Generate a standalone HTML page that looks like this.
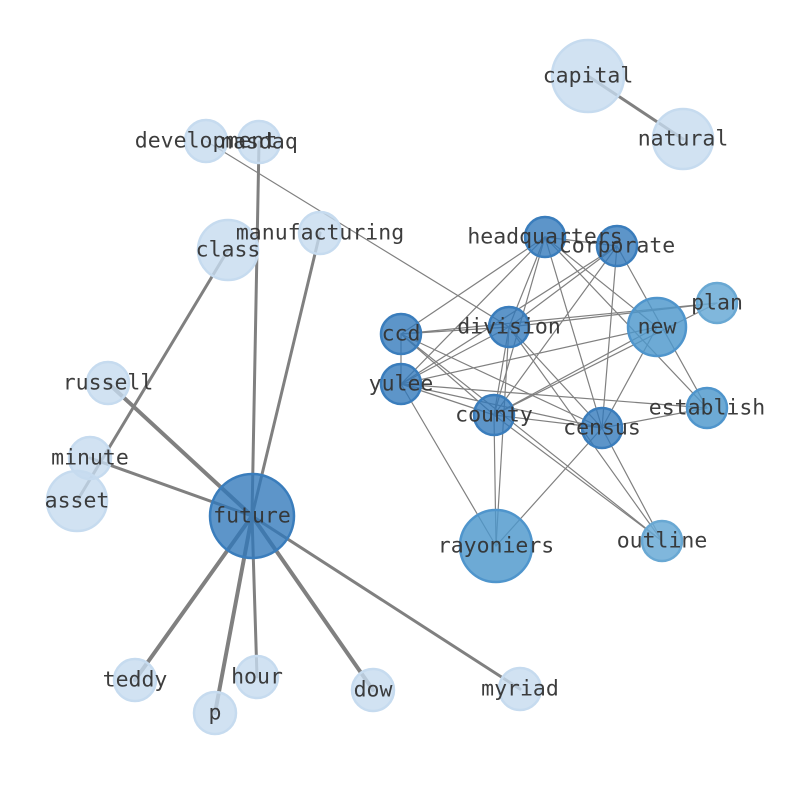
<!DOCTYPE html>
<html><head><meta charset="utf-8"><style>
html,body{margin:0;padding:0;background:#fff;}
svg{display:block;}
text{font-family:"DejaVu Sans Mono","Liberation Mono",monospace;font-size:21.5px;fill:#333;fill-opacity:0.95;text-anchor:middle;dominant-baseline:central;}
</style></head><body>
<svg width="794" height="790" viewBox="0 0 794 790" xmlns="http://www.w3.org/2000/svg">
<g stroke="#808080" stroke-linecap="round">
<g stroke-width="3">
<line x1="588" y1="76" x2="683" y2="139"/>
<line x1="259" y1="142" x2="252" y2="516"/>
<line x1="320" y1="233" x2="252" y2="516"/>
<line x1="228" y1="250" x2="77" y2="501"/>
<line x1="108" y1="383" x2="252" y2="516" stroke-width="4"/>
<line x1="90" y1="458" x2="252" y2="516"/>
<line x1="135" y1="680" x2="252" y2="516" stroke-width="4"/>
<line x1="215" y1="713" x2="252" y2="516" stroke-width="4"/>
<line x1="257" y1="677" x2="252" y2="516"/>
<line x1="373" y1="690" x2="252" y2="516" stroke-width="4"/>
<line x1="520" y1="689" x2="252" y2="516"/>
</g>
<g stroke-width="1.2">
<line x1="206" y1="141" x2="509" y2="327"/>
<line x1="545" y1="237" x2="401" y2="334"/>
<line x1="545" y1="237" x2="401" y2="384"/>
<line x1="545" y1="237" x2="509" y2="327"/>
<line x1="545" y1="237" x2="494" y2="415"/>
<line x1="545" y1="237" x2="602" y2="428"/>
<line x1="545" y1="237" x2="657" y2="327"/>
<line x1="545" y1="237" x2="707" y2="408"/>
<line x1="545" y1="237" x2="617" y2="246"/>
<line x1="617" y1="246" x2="509" y2="327"/>
<line x1="617" y1="246" x2="401" y2="384"/>
<line x1="617" y1="246" x2="494" y2="415"/>
<line x1="617" y1="246" x2="602" y2="428"/>
<line x1="617" y1="246" x2="707" y2="408"/>
<line x1="401" y1="334" x2="509" y2="327"/>
<line x1="401" y1="334" x2="717" y2="303"/>
<line x1="401" y1="334" x2="401" y2="384"/>
<line x1="401" y1="334" x2="602" y2="428"/>
<line x1="401" y1="334" x2="662" y2="541"/>
<line x1="401" y1="334" x2="494" y2="415"/>
<line x1="509" y1="327" x2="717" y2="303"/>
<line x1="509" y1="327" x2="401" y2="384"/>
<line x1="509" y1="327" x2="494" y2="415"/>
<line x1="509" y1="327" x2="496" y2="546"/>
<line x1="509" y1="327" x2="602" y2="428"/>
<line x1="509" y1="327" x2="662" y2="541"/>
<line x1="657" y1="327" x2="401" y2="384"/>
<line x1="657" y1="327" x2="494" y2="415"/>
<line x1="657" y1="327" x2="602" y2="428"/>
<line x1="717" y1="303" x2="494" y2="415"/>
<line x1="401" y1="384" x2="494" y2="415"/>
<line x1="401" y1="384" x2="602" y2="428"/>
<line x1="401" y1="384" x2="707" y2="408"/>
<line x1="401" y1="384" x2="496" y2="546"/>
<line x1="494" y1="415" x2="602" y2="428"/>
<line x1="494" y1="415" x2="496" y2="546"/>
<line x1="494" y1="415" x2="662" y2="541"/>
<line x1="602" y1="428" x2="707" y2="408"/>
<line x1="602" y1="428" x2="662" y2="541"/>
<line x1="602" y1="428" x2="496" y2="546"/>
</g>
</g>
<g stroke-width="2.5">
<g fill="#c6dbef" fill-opacity="0.8" stroke="#c6dbef">
<circle cx="588" cy="76" r="36"/>
<circle cx="683" cy="139" r="30"/>
<circle cx="206" cy="141" r="21"/>
<circle cx="259" cy="142" r="21"/>
<circle cx="320" cy="233" r="21"/>
<circle cx="228" cy="250" r="30"/>
<circle cx="108" cy="383" r="21"/>
<circle cx="90" cy="458" r="21"/>
<circle cx="77" cy="501" r="30"/>
<circle cx="135" cy="680" r="21"/>
<circle cx="257" cy="677" r="21"/>
<circle cx="215" cy="713" r="21"/>
<circle cx="373" cy="690" r="21"/>
<circle cx="520" cy="689" r="21"/>
</g>
<g fill="#2f77ba" fill-opacity="0.78" stroke="#3a7dbc">
<circle cx="545" cy="237" r="20"/>
<circle cx="617" cy="246" r="20"/>
<circle cx="401" cy="334" r="20"/>
<circle cx="509" cy="327" r="20"/>
<circle cx="401" cy="384" r="20"/>
<circle cx="494" cy="415" r="20"/>
<circle cx="602" cy="428" r="20"/>
<circle cx="252" cy="516" r="42"/>
</g>
<g fill="#4d97cc" fill-opacity="0.82" stroke="#4f95cc">
<circle cx="657" cy="327" r="29"/>
<circle cx="707" cy="408" r="20"/>
<circle cx="496" cy="546" r="36"/>
</g>
<g fill="#6aaad6" fill-opacity="0.85" stroke="#69a8d3">
<circle cx="717" cy="303" r="20"/>
<circle cx="662" cy="541" r="20"/>
</g>
</g>
<g>
<text x="588" y="76">capital</text>
<text x="683" y="139">natural</text>
<text x="206" y="141">development</text>
<text x="259" y="142">nasdaq</text>
<text x="320" y="233">manufacturing</text>
<text x="228" y="250">class</text>
<text x="545" y="237">headquarters</text>
<text x="617" y="246">corporate</text>
<text x="717" y="303">plan</text>
<text x="657" y="327">new</text>
<text x="401" y="334">ccd</text>
<text x="509" y="327">division</text>
<text x="401" y="384">yulee</text>
<text x="494" y="415">county</text>
<text x="602" y="428">census</text>
<text x="707" y="408">establish</text>
<text x="108" y="383">russell</text>
<text x="90" y="458">minute</text>
<text x="77" y="501">asset</text>
<text x="252" y="516">future</text>
<text x="496" y="546">rayoniers</text>
<text x="662" y="541">outline</text>
<text x="135" y="680">teddy</text>
<text x="257" y="677">hour</text>
<text x="215" y="713">p</text>
<text x="373" y="690">dow</text>
<text x="520" y="689">myriad</text>
</g>
</svg>
</body></html>
